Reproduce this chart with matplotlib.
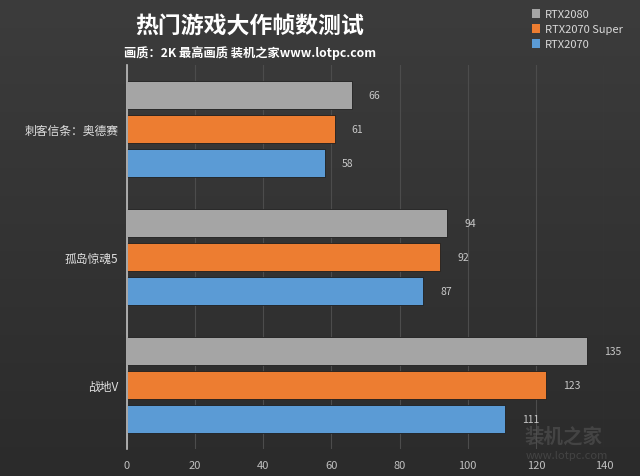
import numpy as np
import matplotlib
matplotlib.use("Agg")
import matplotlib.pyplot as plt
from matplotlib.patches import Patch

plt.rcParams['font.family'] = ['Noto Sans CJK SC', 'DejaVu Sans']

# 数据
games = ['刺客信条：奥德赛', '孤岛惊魂5', '战地V']
series = ['RTX2080', 'RTX2070 Super', 'RTX2070']
rtx2080 = [66, 94, 135]
rtx2070s = [61, 92, 123]
rtx2070 = [58, 87, 111]
colors = ['#a5a5a5', '#ed7d31', '#5b9bd5']
xticks = [0, 20, 40, 60, 80, 100, 120, 140]

fig = plt.figure(figsize=(6.4, 4.77), dpi=100)

# 背景渐变
bg = fig.add_axes([0, 0, 1, 1], zorder=-1)
grad = np.linspace(0, 1, 256).reshape(-1, 1)
bg.imshow(grad, aspect='auto', cmap=matplotlib.colors.LinearSegmentedColormap.from_list(
    'bg', ['#3c3c3c', '#2b2b2b']), extent=[0, 1, 0, 1])
bg.axis('off')

ax = fig.add_axes([0.198, 0.057, 0.746, 0.805])
ax.set_facecolor('none')

n = len(games)
y = np.arange(n)
h = 0.22
step = 0.265
values = [rtx2080, rtx2070s, rtx2070]
for i, (vals, c, name) in enumerate(zip(values, colors, series)):
    pos = y + (i - 1) * step
    bars = ax.barh(pos, vals, height=h, color=c, edgecolor='#1e1e1e', linewidth=0.6, label=name)
    for b, v in zip(bars, vals):
        ax.text(v + 5, b.get_y() + b.get_height() / 2, str(v), va='center', ha='left',
                fontsize=7.5, color='#c8c8c8')

ax.set_ylim(n - 0.5, -0.5)
ax.set_xlim(0, 140)
ax.set_xticks(xticks)
ax.set_yticks(y)
ax.set_yticklabels(games, fontsize=8.5, color='#e0e0e0')
ax.tick_params(axis='x', colors='#c0c0c0', labelsize=8, length=0, pad=8)
ax.tick_params(axis='y', length=0, pad=6)
ax.grid(axis='x', color='#4c4c4c', linewidth=0.8)
ax.set_axisbelow(True)
for s in ['top', 'right', 'bottom']:
    ax.spines[s].set_visible(False)
ax.spines['left'].set_color('#bfbfbf')
ax.spines['left'].set_linewidth(1.2)

fig.text(0.39, 0.945, '热门游戏大作帧数测试', ha='center', va='center', fontsize=16.5,
         fontweight='bold', color='white')
fig.text(0.39, 0.889, '画质：2K 最高画质 装机之家www.lotpc.com', ha='center', va='center',
         fontsize=8.8, fontweight='bold', color='white')

handles = [Patch(facecolor=c, label=s) for c, s in zip(colors, series)]
leg = fig.legend(handles=handles, loc='upper left', bbox_to_anchor=(0.815, 1.0), frameon=False,
                 fontsize=8, labelcolor='#d9d9d9', handlelength=0.8, handleheight=0.8,
                 handletextpad=0.4, labelspacing=0.45)

# 水印
fig.text(0.88, 0.085, '装机之家', ha='center', va='center', fontsize=14, fontweight='bold',
         color='#555555', alpha=0.6)
fig.text(0.885, 0.045, 'www.lotpc.com', ha='center', va='center', fontsize=8,
         color='#555555', alpha=0.6)

fig.savefig('out.png', dpi=100)
